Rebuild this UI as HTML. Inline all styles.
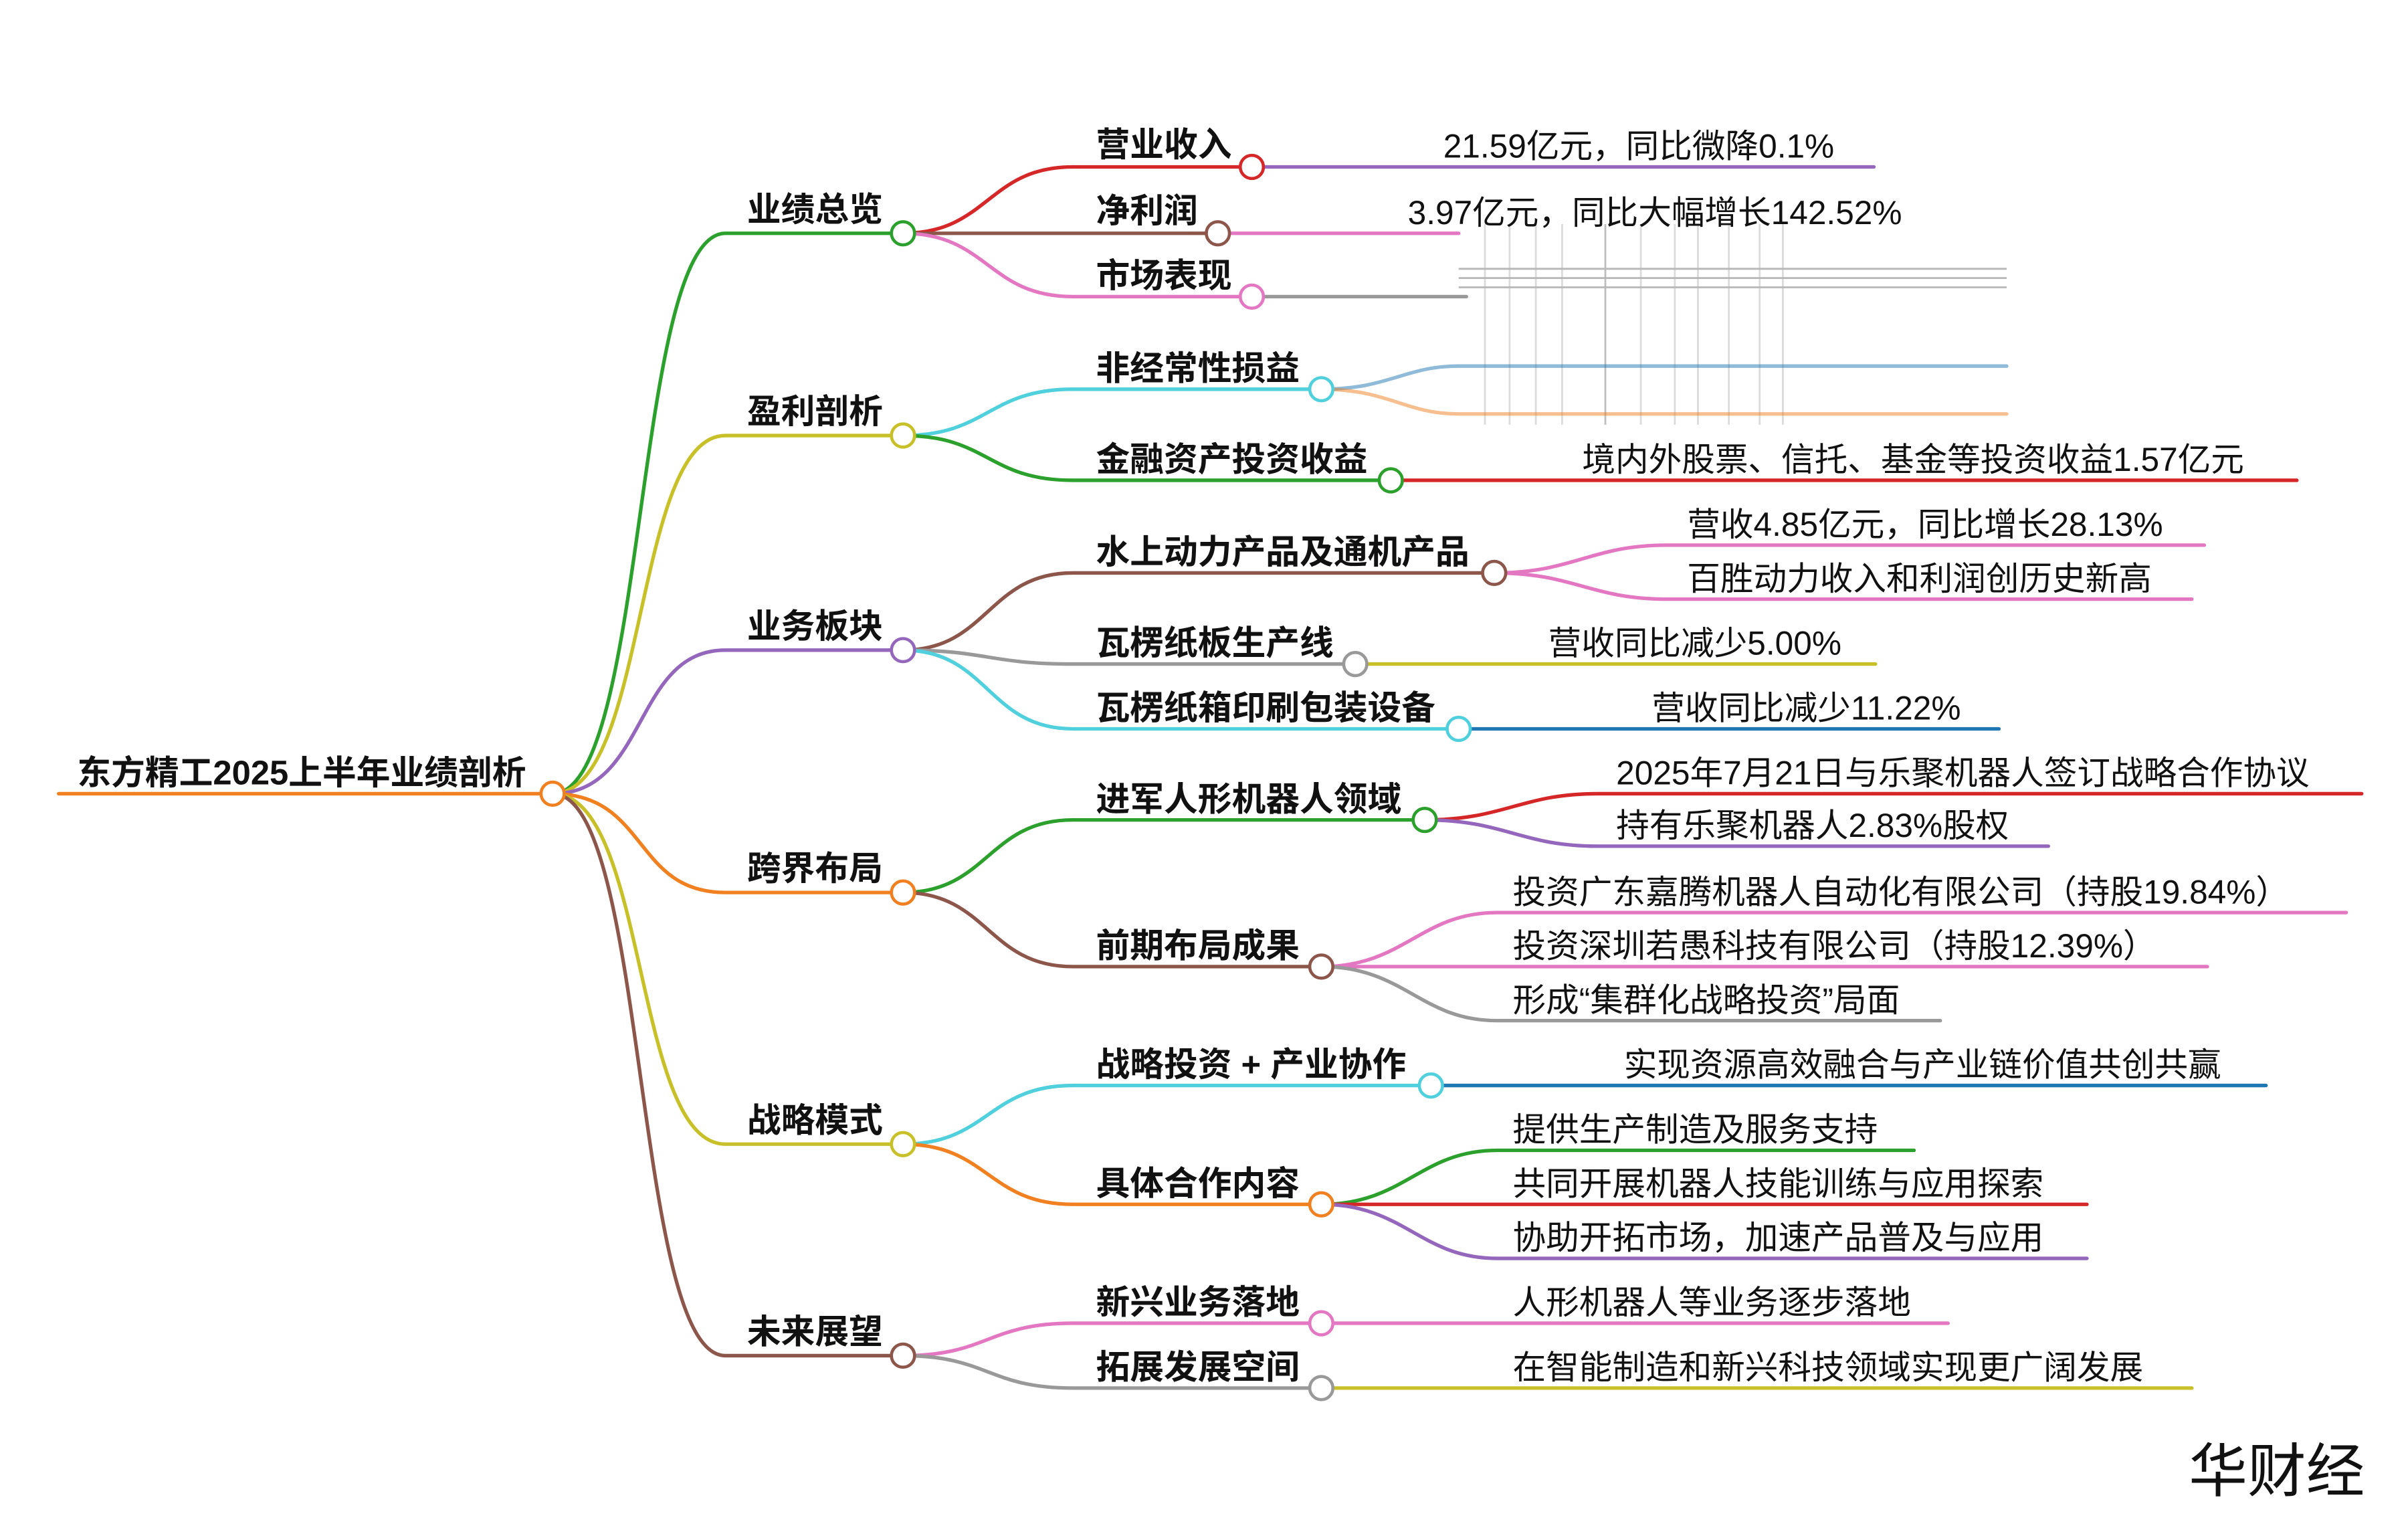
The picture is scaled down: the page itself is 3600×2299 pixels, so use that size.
<!DOCTYPE html>
<html><head><meta charset="utf-8"><style>
html,body{margin:0;padding:0;background:#fff;width:3600px;height:2299px;overflow:hidden}
svg{display:block}
text{font-family:"Liberation Sans","Noto Sans CJK SC","WenQuanYi Zen Hei",sans-serif;fill:#111}
.b{font-weight:bold;font-size:22px}
.l{font-size:21.5px}
path{fill:none;stroke-width:2.3;stroke-linecap:round}
circle{fill:#fff;stroke-width:2}
</style></head><body>
<svg width="3600" height="2299" viewBox="0 0 1560 996" xmlns="http://www.w3.org/2000/svg">
<!-- glitch area -->
<g stroke="#999" stroke-width="1.2" opacity="0.35">
<line x1="962" y1="145" x2="962" y2="275"/><line x1="978" y1="145" x2="978" y2="275"/><line x1="995" y1="145" x2="995" y2="275"/>
<line x1="1012" y1="145" x2="1012" y2="275"/><line x1="1040" y1="145" x2="1040" y2="275" stroke="#444"/><line x1="1063" y1="145" x2="1063" y2="275"/>
<line x1="1085" y1="145" x2="1085" y2="275"/><line x1="1100" y1="145" x2="1100" y2="275"/><line x1="1120" y1="145" x2="1120" y2="275"/>
<line x1="1140" y1="145" x2="1140" y2="275"/><line x1="1155" y1="145" x2="1155" y2="275"/>
<line x1="945" y1="174" x2="1300" y2="174" stroke="#333"/><line x1="945" y1="180" x2="1300" y2="180" stroke="#333"/><line x1="945" y1="186" x2="1300" y2="186" stroke="#333"/>
</g>
<!-- root -->
<path d="M38 514 L358 514" stroke="#f08020"/>
<text class="b" x="50" y="508">东方精工2025上半年业绩剖析</text>
<!-- L1 -->
<path d="M358 514 C420 514 410 151 470 151 L585 151" stroke="#2ca02c"/>
<path d="M358 514 C420 514 410 282 470 282 L585 282" stroke="#c8c028"/>
<path d="M358 514 C420 514 410 421 470 421 L585 421" stroke="#9467bd"/>
<path d="M358 514 C420 514 410 578 470 578 L585 578" stroke="#f08020"/>
<path d="M358 514 C420 514 410 741 470 741 L585 741" stroke="#c8c028"/>
<path d="M358 514 C420 514 410 878 470 878 L585 878" stroke="#8c564b"/>
<text class="b" x="484" y="143">业绩总览</text>
<text class="b" x="484" y="274">盈利剖析</text>
<text class="b" x="484" y="413">业务板块</text>
<text class="b" x="484" y="570">跨界布局</text>
<text class="b" x="484" y="733">战略模式</text>
<text class="b" x="484" y="870">未来展望</text>
<!-- L2 -->
<path d="M585 151 C640 151 640 108 695 108 L811 108" stroke="#d62728"/>
<path d="M585 151 L789 151" stroke="#8c564b"/>
<path d="M585 151 C640 151 640 192 695 192 L811 192" stroke="#e377c2"/>
<path d="M585 282 C640 282 640 252 695 252 L856 252" stroke="#50d0dc"/>
<path d="M585 282 C640 282 640 311 695 311 L901 311" stroke="#2ca02c"/>
<path d="M585 421 C640 421 640 371 695 371 L968 371" stroke="#8c564b"/>
<path d="M585 421 C640 421 640 430 695 430 L878 430" stroke="#999"/>
<path d="M585 421 C640 421 640 472 695 472 L945 472" stroke="#50d0dc"/>
<path d="M585 578 C640 578 640 531 695 531 L923 531" stroke="#2ca02c"/>
<path d="M585 578 C640 578 640 626 695 626 L856 626" stroke="#8c564b"/>
<path d="M585 741 C640 741 640 703 695 703 L927 703" stroke="#50d0dc"/>
<path d="M585 741 C640 741 640 780 695 780 L856 780" stroke="#f08020"/>
<path d="M585 878 C640 878 640 857 695 857 L856 857" stroke="#e377c2"/>
<path d="M585 878 C640 878 640 899 695 899 L856 899" stroke="#999"/>
<text class="b" x="710" y="101">营业收入</text>
<text class="b" x="710" y="144">净利润</text>
<text class="b" x="710" y="186">市场表现</text>
<text class="b" x="710" y="246">非经常性损益</text>
<text class="b" x="710" y="305">金融资产投资收益</text>
<text class="b" x="710" y="365">水上动力产品及通机产品</text>
<text class="b" x="710" y="424">瓦楞纸板生产线</text>
<text class="b" x="710" y="466">瓦楞纸箱印刷包装设备</text>
<text class="b" x="710" y="525">进军人形机器人领域</text>
<text class="b" x="710" y="620">前期布局成果</text>
<text class="b" x="710" y="697">战略投资 + 产业协作</text>
<text class="b" x="710" y="774">具体合作内容</text>
<text class="b" x="710" y="851">新兴业务落地</text>
<text class="b" x="710" y="893">拓展发展空间</text>
<!-- leaves -->
<path d="M811 108 L1214 108" stroke="#9467bd"/>
<path d="M789 151 L945 151" stroke="#e377c2"/>
<path d="M811 192 L950 192" stroke="#999"/>
<path d="M856 252 C900 252 910 237 945 237 L1300 237" stroke="#1f77b4" opacity="0.5"/>
<path d="M856 252 C900 252 910 268 945 268 L1300 268" stroke="#f08020" opacity="0.5"/>
<path d="M901 311 L1488 311" stroke="#d62728"/>
<path d="M968 371 C1020 371 1030 353 1080 353 L1428 353" stroke="#e377c2"/>
<path d="M968 371 C1020 371 1030 388 1080 388 L1420 388" stroke="#e377c2"/>
<path d="M878 430 L1215 430" stroke="#c8c028"/>
<path d="M945 472 L1295 472" stroke="#1f77b4"/>
<path d="M923 531 C975 531 985 514 1035 514 L1530 514" stroke="#d62728"/>
<path d="M923 531 C975 531 985 548 1035 548 L1327 548" stroke="#9467bd"/>
<path d="M856 626 C910 626 920 591 970 591 L1520 591" stroke="#e377c2"/>
<path d="M856 626 L1430 626" stroke="#e377c2"/>
<path d="M856 626 C910 626 920 661 970 661 L1257 661" stroke="#999"/>
<path d="M927 703 L1468 703" stroke="#1f77b4"/>
<path d="M856 780 C910 780 920 745 970 745 L1240 745" stroke="#2ca02c"/>
<path d="M856 780 L1352 780" stroke="#d62728"/>
<path d="M856 780 C910 780 920 815 970 815 L1352 815" stroke="#9467bd"/>
<path d="M856 857 L1262 857" stroke="#e377c2"/>
<path d="M856 899 L1420 899" stroke="#c8c028"/>
<text class="l" x="935" y="102">21.59亿元，同比微降0.1%</text>
<text class="l" x="912" y="145">3.97亿元，同比大幅增长142.52%</text>
<text class="l" x="1025" y="305">境内外股票、信托、基金等投资收益1.57亿元</text>
<text class="l" x="1093" y="347">营收4.85亿元，同比增长28.13%</text>
<text class="l" x="1093" y="382">百胜动力收入和利润创历史新高</text>
<text class="l" x="1003" y="424">营收同比减少5.00%</text>
<text class="l" x="1070" y="466">营收同比减少11.22%</text>
<text class="l" x="1047" y="508">2025年7月21日与乐聚机器人签订战略合作协议</text>
<text class="l" x="1047" y="542">持有乐聚机器人2.83%股权</text>
<text class="l" x="980" y="585">投资广东嘉腾机器人自动化有限公司（持股19.84%）</text>
<text class="l" x="980" y="620">投资深圳若愚科技有限公司（持股12.39%）</text>
<text class="l" x="980" y="655">形成“集群化战略投资”局面</text>
<text class="l" x="1052" y="697">实现资源高效融合与产业链价值共创共赢</text>
<text class="l" x="980" y="739">提供生产制造及服务支持</text>
<text class="l" x="980" y="774">共同开展机器人技能训练与应用探索</text>
<text class="l" x="980" y="809">协助开拓市场，加速产品普及与应用</text>
<text class="l" x="980" y="851">人形机器人等业务逐步落地</text>
<text class="l" x="980" y="893">在智能制造和新兴科技领域实现更广阔发展</text>
<!-- circles -->
<circle cx="358" cy="514" r="7.5" stroke="#f08020"/>
<circle cx="585" cy="151" r="7.5" stroke="#2ca02c"/>
<circle cx="585" cy="282" r="7.5" stroke="#c8c028"/>
<circle cx="585" cy="421" r="7.5" stroke="#9467bd"/>
<circle cx="585" cy="578" r="7.5" stroke="#f08020"/>
<circle cx="585" cy="741" r="7.5" stroke="#c8c028"/>
<circle cx="585" cy="878" r="7.5" stroke="#8c564b"/>
<circle cx="811" cy="108" r="7.5" stroke="#d62728"/>
<circle cx="789" cy="151" r="7.5" stroke="#8c564b"/>
<circle cx="811" cy="192" r="7.5" stroke="#e377c2"/>
<circle cx="856" cy="252" r="7.5" stroke="#50d0dc"/>
<circle cx="901" cy="311" r="7.5" stroke="#2ca02c"/>
<circle cx="968" cy="371" r="7.5" stroke="#8c564b"/>
<circle cx="878" cy="430" r="7.5" stroke="#999"/>
<circle cx="945" cy="472" r="7.5" stroke="#50d0dc"/>
<circle cx="923" cy="531" r="7.5" stroke="#2ca02c"/>
<circle cx="856" cy="626" r="7.5" stroke="#8c564b"/>
<circle cx="927" cy="703" r="7.5" stroke="#50d0dc"/>
<circle cx="856" cy="780" r="7.5" stroke="#f08020"/>
<circle cx="856" cy="857" r="7.5" stroke="#e377c2"/>
<circle cx="856" cy="899" r="7.5" stroke="#999"/>
<text x="1418" y="966" style="font-size:38px">华财经</text>
</svg>
</body></html>
